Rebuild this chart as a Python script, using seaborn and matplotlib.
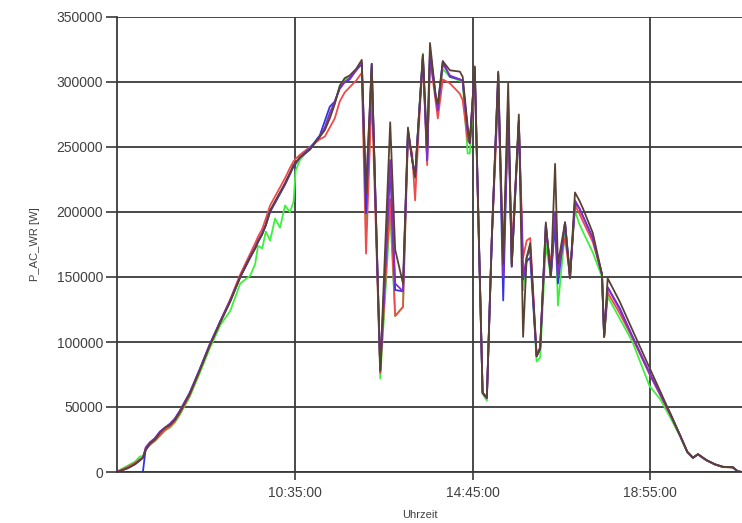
import matplotlib
matplotlib.use("Agg")
import matplotlib.pyplot as plt
import matplotlib.ticker as mticker
import seaborn as sns
import pandas as pd

times = ["06:25","06:30","06:40","06:50","06:57","07:01","07:05","07:11","07:18","07:25",
         "07:32","07:39","07:46","07:53","08:07","08:21","08:35","08:50","09:04","09:18",
         "09:32","09:39","09:43","09:49","09:54","10:00","10:07","10:14","10:21","10:28",
         "10:33","10:36","10:42","10:56","11:10","11:17","11:24","11:31","11:38","11:45",
         "11:52","12:01","12:09","12:15","12:23","12:35","12:49","12:56","13:07","13:14",
         "13:20","13:24","13:29","13:35","13:41","13:45","13:53","13:56","14:03","14:13",
         "14:27","14:31","14:38","14:41","14:48","14:59","15:05","15:12","15:21","15:28",
         "15:35","15:40","15:50","15:56","16:01","16:06","16:15","16:20","16:28","16:35",
         "16:41","16:45","16:55","17:02","17:09","17:15","17:20","17:34","17:47","17:50",
         "17:55","18:12","18:30","18:54","19:09","19:23","19:37","19:47","19:55","20:02",
         "20:14","20:26","20:37","20:51","20:58","21:04"]

# values in kW
green = [0.5,2,5,8,12,12,17,21,24,28, 32,34,38,44,58,76,95,113,124,145,
         151,160,174,172,185,178,195,188,205,200, 208,232,240,249,258,264,276,284,297,302,
         304,309,314,194,310,72,200,120,127,262, 240,225,272,322,245,320,289,280,310,304,
         301,300,245,245,310,60,55,180,300,160, 285,160,270,140,165,172,85,88,175,150,
         200,128,185,155,201,191,185,169,150,104, 135,118,100,66,56,42,27,15,10.5,13.5,
         9,5.8,3.8,3.5,0.5,0]
red = [0.5,1.5,4,7,10,11,17,21,24,28, 32,35,39,45,59,78,97,116,133,152,
       168,176,181,187,195,205,212,219,226,234, 239,241,244,250,256,258,265,272,285,292,
       296,301,307,168,292,76,210,120,127,258, 245,209,262,318,236,318,285,272,302,299,
       291,286,255,253,305,61,57,180,291,165, 270,170,268,165,178,180,90,96,185,160,
       190,155,180,150,205,199,193,177,152,104, 138,122,103,75,59,44,28,15.5,11,13.5,
       9,5.8,3.8,3.5,0.5,0]
blue = [0,0,0,0,0,0,18,22,26,31, 34,37,41,47,61,79,98,116,132,150,
        165,172,177,183,190,200,207,214,221,229, 235,237,242,249,259,270,281,285,295,300,
        302,309,314,199,314,78,235,140,139,262, 240,227,270,320,240,322,289,281,316,304,
        302,301,263,253,311,61,57,180,306,132, 280,158,270,148,162,165,89,95,190,150,
        190,145,192,149,207,203,197,180,152,104, 142,126,104,76,60,45,28,15.5,11,13.6,
        9,5.8,4,3.6,0.5,0]
purple = [0,1,3,6,9,11,19,23,26,31, 34,37,41,47,61,79,98,116,132,150,
          166,173,178,184,190,201,208,215,222,230, 236,238,242,248,258,265,276,285,295,300,
          303,309,315,215,312,78,240,145,139,263, 240,227,270,320,240,325,289,278,314,305,
          302,300,262,253,311,61,57,180,307,150, 285,160,270,150,165,172,89,95,190,150,
          200,150,192,149,209,203,197,180,152,104, 142,125,104,76,60,45,28,15.5,11,13.6,
          9,5.8,4,3.6,0.5,0]
brown = [0,1,3,6,9,11,17,22,25,30, 34,36,40,46,60,78,97,115,131,150,
         165,172,177,183,190,201,208,215,222,230, 236,238,242,248,258,263,272,283,297,303,
         305,310,317,215,314,78,269,171,145,265, 240,227,270,321,250,330,289,283,316,309,
         308,304,266,253,312,61,57,180,308,160, 299,158,275,104,165,176,89,95,192,150,
         237,160,192,149,215,209,203,184,152,104, 149,131,109,80,62,45,28,15.6,11,13.8,
         9.2,6,4,3.8,0.5,0]

series_names = ["green", "red", "blue", "purple", "brown"]
series_values = [green, red, blue, purple, brown]
palette = {"green": "#3ef03e", "red": "#f04a4a", "blue": "#3434e6",
           "purple": "#8a2cc8", "brown": "#5a4233"}

def to_min(s):
    h, m = s.split(":")
    return int(h) * 60 + int(m)

rows = []
for name, vals in zip(series_names, series_values):
    for t, v in zip(times, vals):
        rows.append({"t": to_min(t), "P": v * 1000.0, "series": name})
df = pd.DataFrame(rows)

sns.set_style("white")
plt.rcParams["font.family"] = ["Liberation Sans", "DejaVu Sans"]

fig = plt.figure(figsize=(7.42, 5.23), dpi=100)
ax = fig.add_axes([117/742, 51/523, 625/742, 455/523])

sns.lineplot(data=df, x="t", y="P", hue="series", hue_order=series_names,
             palette=palette, estimator=None, sort=False, legend=False,
             linewidth=1.3, ax=ax)

ax.set_xlim(384.6, 1264)
ax.set_ylim(0, 350000)
ax.set_yticks(range(0, 350001, 50000))
xt = [635, 885, 1135]
ax.set_xticks(xt)
ax.set_xticklabels(["%d:%02d:00" % (m // 60, m % 60) for m in xt])
ax.yaxis.set_major_formatter(mticker.FuncFormatter(lambda v, p: "%d" % v))

ax.grid(True, color="#3a3a3a", linewidth=1.3)
ax.set_axisbelow(True)
for s in ["top", "right"]:
    ax.spines[s].set_visible(False)
for s in ["left", "bottom"]:
    ax.spines[s].set_color("#3a3a3a")
    ax.spines[s].set_linewidth(1.3)

ax.tick_params(axis="y", length=8, width=1.2, color="#3a3a3a", labelsize=10,
               labelcolor="#404040", pad=2, left=True)
ax.tick_params(axis="x", length=6, width=1.2, color="#3a3a3a", labelsize=10,
               labelcolor="#404040", pad=4, bottom=True)

ax.set_xlabel("Uhrzeit", fontsize=8, color="#404040")
ax.xaxis.set_label_coords((420 - 117) / 625, -(510 - 472) / 455)
ax.set_ylabel("P_AC_WR [W]", fontsize=8, color="#404040", labelpad=12)

fig.savefig("out.png", dpi=100)
